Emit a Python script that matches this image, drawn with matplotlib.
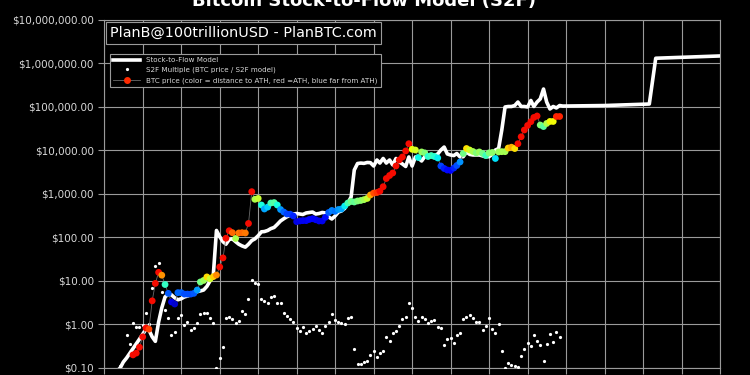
import matplotlib
matplotlib.use("Agg")
import matplotlib.pyplot as plt
import matplotlib.dates as mdates
from matplotlib.lines import Line2D
from matplotlib.ticker import FuncFormatter, NullLocator
import numpy as np
import pandas as pd

# --- data (monthly) ---
price_start = "2010-10-01"
price = [0.20, 0.22, 0.30, 0.52, 0.83, 0.78, 3.5, 8.8, 15.8, 13.6,
         8.3, 5.2, 3.3, 2.96, 5.4, 5.4, 5.0, 5.0, 5.0, 5.2,
         6.2, 9.5, 10.3, 12.4, 11.2, 12.6, 13.7, 21, 34, 96,
         143, 129, 95, 127, 129, 127, 210, 1130, 755, 790,
         558, 452, 500, 620, 635, 558, 440, 385, 347, 343,
         312, 231, 240, 244, 244, 260, 270, 256, 240, 240,
         291, 376, 418, 400, 440, 452, 530, 620, 673, 655,
         690, 710, 740, 790, 950, 1050, 1080, 1160, 1470, 2270,
         2660, 3040, 4400, 6050, 7100, 9750, 14300, 10650, 10250, 6900,
         9250, 8800, 7280, 7650, 7280, 6730, 4400, 3860, 3560, 3480,
         3950, 4520, 5450, 8530, 11100, 10250, 9480, 8800, 9250, 8530,
         7650, 8800, 9000, 6550, 9250, 9400, 9400, 11400, 11900, 11100,
         14300, 20700, 29600, 37600, 45900, 57400, 62100, 38500, 35500, 41800,
         46500, 46500, 60500, 60500]

model_start = "2010-05-01"
model = [0.085, 0.10, 0.137, 0.17, 0.22, 0.28, 0.36, 0.46, 0.60, 0.78,
         0.75, 0.52, 0.41, 1.14, 2.4, 4.3, 5.0, 4.8, 4.1, 3.7,
         3.9, 4.3, 4.5, 4.8, 5.2, 5.7, 5.9, 6.2, 7.5, 10,
         13.7, 145, 104, 80, 70, 90, 93, 80, 70, 64,
         60, 70, 85, 93, 110, 135, 137, 145, 160, 170,
         200, 240, 270, 300, 325, 345, 356, 346, 338, 366,
         376, 385, 346, 356, 376, 366, 296, 266, 312, 385,
         406, 465, 620, 853, 3560, 5020, 5140, 5060, 5300, 5250,
         4400, 6050, 5140, 6550, 5140, 6050, 4650, 6550, 5450, 4900,
         4290, 7100, 4400, 7100, 6730, 5740, 7200, 7880, 7500, 7650,
         8320, 10250, 12000, 8320, 7880, 7650, 8530, 7100, 7200, 9250,
         8130, 7880, 7880, 7880, 7500, 7200, 7200, 8130, 10250, 11100,
         29600, 100000, 102600, 102600, 108000, 130000, 102600, 102600, 100000, 141000,
         102600, 130000, 153000, 259000, 130000, 90000, 102600, 95000, 108000]

proj_dates = ["2021-12-01", "2023-01-01", "2024-03-01", "2024-05-01", "2026-01-01"]
proj_model = [105000, 108000, 117000, 1320000, 1490000]

multiple_start = "2010-06-01"
multiple = [0.11, 0.07, 0.57, 0.36, 1.07, 0.89, 0.89, 0.97, 1.8, 1.0,
            7.0, 22, 25.5, 5.6, 2.1, 1.39, 0.57, 0.68, 1.39, 1.65,
            0.97, 1.16, 0.75, 0.85, 1.11, 1.74, 1.81, 1.81, 1.39, 1.11,
            0.098, 0.167, 0.31, 1.39, 1.48, 1.35, 1.07, 1.22, 2.07, 1.74,
            3.8, 10.5, 8.8, 8.5, 3.8, 3.5, 3.17, 4.36, 4.52, 3.07,
            3.17, 1.87, 1.57, 1.31, 1.16, 0.82, 0.71, 0.86, 0.65, 0.72,
            0.78, 0.92, 0.75, 0.65, 0.92, 1.16, 1.74, 1.27, 1.16, 1.1,
            1.03, 1.39, 1.48, 0.27, 0.124, 0.122, 0.14, 0.146, 0.2, 0.25,
            0.176, 0.225, 0.25, 0.52, 0.42, 0.65, 0.72, 0.92, 1.31, 1.47,
            3.17, 2.35, 1.51, 1.22, 1.51, 1.31, 1.07, 1.22, 1.27, 0.89,
            0.82, 0.34, 0.46, 0.48, 0.38, 0.57, 0.63, 1.31, 1.47, 1.63,
            1.39, 1.16, 1.16, 0.75, 0.92, 1.39, 0.78, 0.63, 1.03, 0.24,
            0.098, 0.128, 0.117, 0.111, 0.107, 0.189, 0.28, 0.37, 0.32, 0.57,
            0.42, 0.34, 0.145, 0.36, 0.6, 0.39, 0.66, 0.52]

price_dates = pd.date_range(price_start, periods=len(price), freq="MS")
model_dates = pd.date_range(model_start, periods=len(model), freq="MS")
mult_dates = pd.date_range(multiple_start, periods=len(multiple), freq="MS")
model_all_dates = list(model_dates) + list(pd.to_datetime(proj_dates))
model_all = list(model) + list(proj_model)

# colour = distance to all-time high
price_arr = np.array(price)
ath_ratio = price_arr / np.maximum.accumulate(price_arr)

GRID = "#9a9a9a"
TXT = "#d8d8d8"

fig = plt.figure(figsize=(7.5, 3.75), dpi=100, facecolor="black")
ax = fig.add_axes([0.139, 0.0187, 0.821, 0.928], facecolor="black")

ax.plot(model_all_dates, model_all, color="white", lw=2.6, zorder=3)
ax.plot(mult_dates, multiple, ls="none", marker="o", ms=2.3, color="white",
        mec="none", zorder=4)
ax.plot(price_dates, price, color="#6a6a6a", lw=0.6, zorder=4)
ax.scatter(price_dates, price, c=ath_ratio, cmap="jet", vmin=0.12, vmax=1.1,
           s=24, edgecolors="none", zorder=5)

ax.set_yscale("log")
ax.set_ylim(0.1, 1e7)
ax.set_xlim(pd.Timestamp("2010-01-01"), pd.Timestamp("2026-01-01"))
ax.yaxis.set_major_formatter(FuncFormatter(lambda v, _: f"${v:,.2f}"))
ax.yaxis.set_minor_locator(NullLocator())
ax.xaxis.set_major_locator(mdates.YearLocator())
ax.xaxis.set_major_formatter(FuncFormatter(lambda v, _: ""))
ax.tick_params(colors=GRID, labelcolor=TXT, labelsize=7.5, length=4, width=0.8)
ax.grid(True, color=GRID, lw=0.8)
for s in ax.spines.values():
    s.set_color(GRID)
    s.set_linewidth(0.8)

ax.text(0.01, 0.982, "PlanB@100trillionUSD - PlanBTC.com", transform=ax.transAxes,
        ha="left", va="top", fontsize=10.4, color="white", zorder=6,
        bbox=dict(facecolor="black", edgecolor=GRID, lw=0.8, pad=3))

handles = [
    Line2D([], [], color="white", lw=2.6),
    Line2D([], [], ls="none", marker="o", ms=2.3, color="white", mec="none"),
    Line2D([], [], color="#6a6a6a", lw=0.6, marker="o", ms=5,
           mfc="#ff2a00", mec="none"),
]
labels = ["Stock-to-Flow Model", "S2F Multiple (BTC price / S2F model)",
          "BTC price (color = distance to ATH, red =ATH, blue far from ATH)"]
leg = ax.legend(handles, labels, loc="upper left", bbox_to_anchor=(0.004, 0.913),
                fontsize=5.1, labelcolor=TXT, facecolor="black", edgecolor=GRID,
                framealpha=1, fancybox=False, handlelength=3.8, borderpad=0.45,
                labelspacing=0.55)
leg.get_frame().set_linewidth(0.8)
leg.set_zorder(6)

fig.text(0.485, 1 - 6 / 375, "Bitcoin Stock-to-Flow Model (S2F)", ha="center",
         va="baseline", fontsize=13, fontweight="bold", color="white")

fig.savefig("out.png", dpi=100, facecolor="black")
